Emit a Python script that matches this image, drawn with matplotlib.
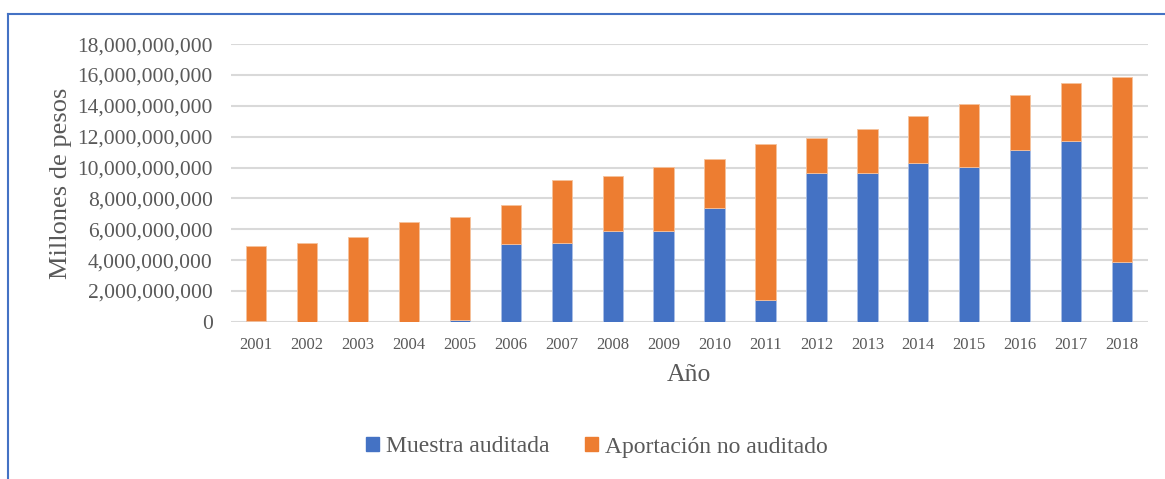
import matplotlib.pyplot as plt
from matplotlib.lines import Line2D
from matplotlib.ticker import FuncFormatter
from matplotlib.font_manager import FontProperties

plt.rcParams['font.family'] = ['Liberation Serif', 'DejaVu Serif']

years = [str(y) for y in range(2001, 2019)]
# valores en miles de millones
total = [4.92, 5.14, 5.52, 6.45, 6.80, 7.58, 9.20, 9.46, 10.06, 10.56,
         11.50, 11.94, 12.48, 13.34, 14.14, 14.70, 15.49, 15.87]
muestra = [0.05, 0.02, 0.02, 0.02, 0.12, 5.07, 5.14, 5.91, 5.91, 7.40,
           1.44, 9.63, 9.67, 10.30, 10.02, 11.12, 11.70, 3.87]

muestra_v = [m * 1e9 for m in muestra]
aport_v = [(t - m) * 1e9 for t, m in zip(total, muestra)]

blue = '#4472C4'
orange = '#ED7D31'
gray = '#595959'

fig = plt.figure(figsize=(11.65, 4.79), dpi=100)
ax = fig.add_axes([0.198, 0.328, 0.787, 0.58])

x = range(len(years))
ax.bar(x, muestra_v, 0.4, color=blue, edgecolor='#a9bfe6', linewidth=0.6, zorder=3,
       label='Muestra auditada')
ax.bar(x, aport_v, 0.4, bottom=muestra_v, color=orange, edgecolor='#f6c29c',
       linewidth=0.6, zorder=3, label='Aportación no auditado')

ax.set_ylim(0, 18e9)
ax.set_xlim(-0.5, len(years) - 0.5)
ax.set_yticks([i * 2e9 for i in range(10)])
ax.yaxis.set_major_formatter(FuncFormatter(lambda v, p: f'{v:,.0f}'))
ax.set_xticks(list(x))
ax.set_xticklabels(years)
ax.grid(axis='y', color='#d9d9d9', linewidth=1.5, zorder=0)
for s in ax.spines.values():
    s.set_visible(False)
ax.tick_params(axis='both', length=0, colors=gray)
ax.tick_params(axis='y', labelsize=15.5, pad=13)
ax.tick_params(axis='x', labelsize=12, pad=11)

ax.set_ylabel('Millones de pesos', fontsize=19, color=gray, labelpad=4)
ax.set_xlabel('Año', fontsize=18.5, color=gray, labelpad=8)

handles = [plt.Rectangle((0, 0), 1, 1, color=blue), plt.Rectangle((0, 0), 1, 1, color=orange)]
fig.legend(handles, ['Muestra auditada', 'Aportación no auditado'], loc='center',
           bbox_to_anchor=(0.5125, 1 - 447 / 479), ncol=2, frameon=False,
           prop=FontProperties(family='Liberation Serif', size=17),
           labelcolor=gray, handlelength=0.55, handleheight=0.55, handletextpad=0.3,
           columnspacing=1.5)

# marco azul
fx = 8 / 1165
fy = 1 - 14 / 479
fig.add_artist(Line2D([fx, fx], [0, fy], color=blue, linewidth=1.5, transform=fig.transFigure))
fig.add_artist(Line2D([fx, 1], [fy, fy], color=blue, linewidth=1.5, transform=fig.transFigure))

fig.savefig('out.png', dpi=100)
